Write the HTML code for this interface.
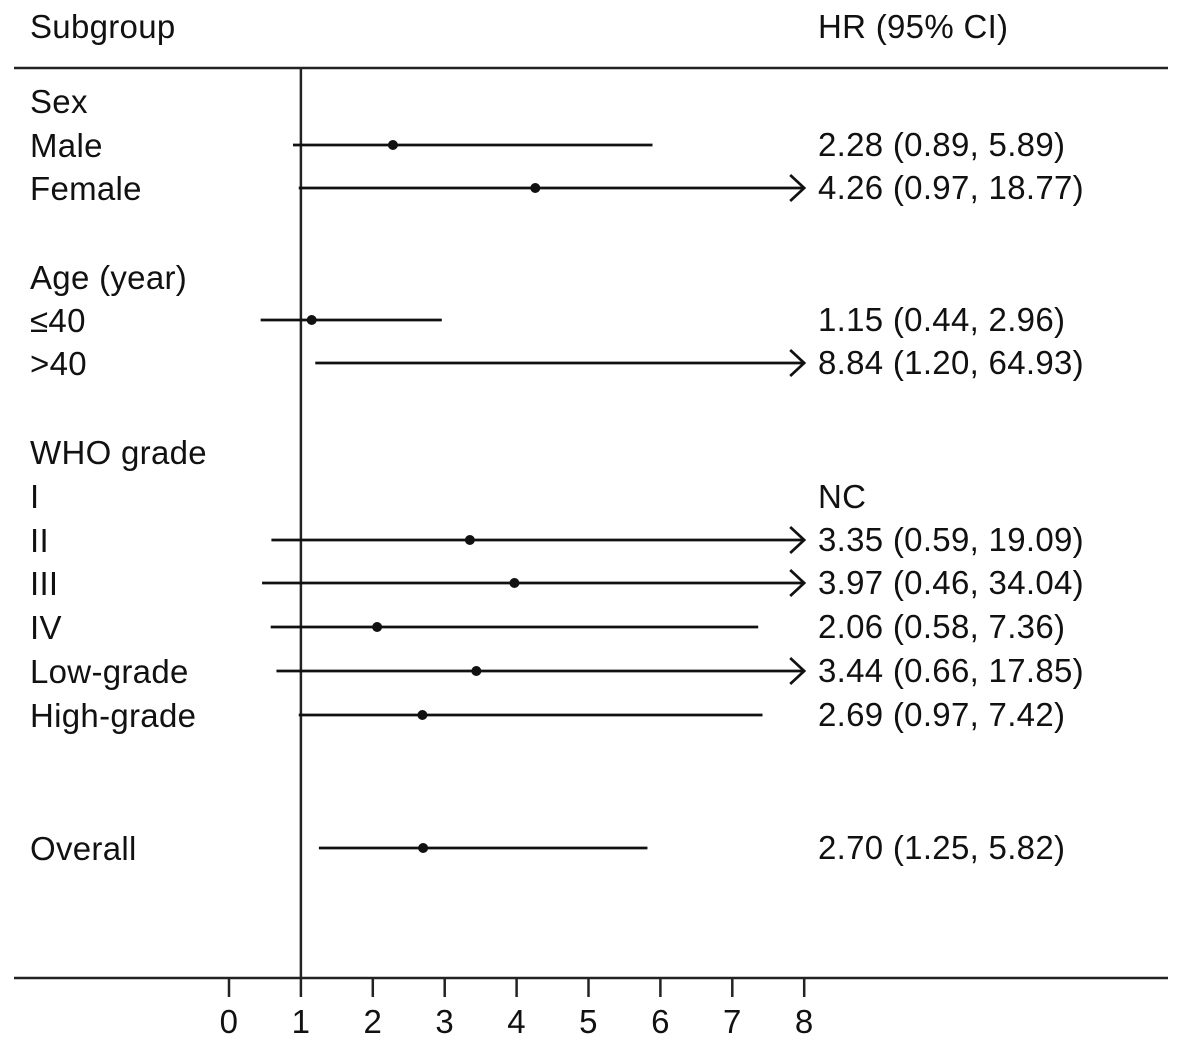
<!DOCTYPE html>
<html><head><meta charset="utf-8"><style>
body{margin:0;background:#fff;}
svg text{font-family:"Liberation Sans",Arial,sans-serif;fill:#111;letter-spacing:0.3px;}
</style></head><body>
<svg width="1181" height="1048" viewBox="0 0 1181 1048">
<g id="g"></g>
</svg>
<script>
const labels=["Male","Female","≤40",">40","II","III","IV","Low-grade","High-grade","Overall"];
const hr=[2.28,4.26,1.15,8.84,3.35,3.97,2.06,3.44,2.69,2.70];
const lo=[0.89,0.97,0.44,1.20,0.59,0.46,0.58,0.66,0.97,1.25];
const hi=[5.89,18.77,2.96,64.93,19.09,34.04,7.36,17.85,7.42,5.82];
const rowY=[145,188,320,363,540,583,627,671,715,848];
const headers=[["Sex",102],["Age (year)",278],["WHO grade",453],["I",497]];
const ticks=[0,1,2,3,4,5,6,7,8];
const NS="http://www.w3.org/2000/svg";
const g=document.getElementById('g');
const x=v=>229+v*71.9;
const XMAX=8;
const FS=33;
function mk(t,a,name){const e=document.createElementNS(NS,t);for(const k in a)e.setAttribute(k,a[k]);


g.appendChild(e);return e;}
function txt(s,X,Y,name){const e=mk('text',{x:X,y:Y,'font-size':FS},name);e.textContent=s;return e;}
txt("Subgroup",30,38,'subgroup-header');
txt("HR (95% CI)",818,38,'hr-header');
mk('line',{x1:14,x2:1168,y1:68,y2:68,stroke:'#222','stroke-width':2.5},'top-rule');
mk('line',{x1:14,x2:1168,y1:978,y2:978,stroke:'#222','stroke-width':2.5},'x-axis');
mk('line',{x1:x(1),x2:x(1),y1:68,y2:978,stroke:'#222','stroke-width':2.5},'reference-line');
ticks.forEach(t=>{mk('line',{x1:x(t),x2:x(t),y1:978,y2:997,stroke:'#222','stroke-width':2.5},'x-tick');
const e=txt(String(t),x(t),1033,'x-tick-label');e.setAttribute('text-anchor','middle');});
headers.forEach(h=>txt(h[0],30,h[1]+11,'group-label'));
txt("NC",818,508,'nc-value');
labels.forEach((l,i)=>{const y=rowY[i];
txt(l,30,y+12,'row-label');
const x2=hi[i]>XMAX?x(XMAX):x(hi[i]);
mk('line',{x1:x(lo[i]),x2:x2,y1:y,y2:y,stroke:'#111','stroke-width':2.7},'ci-line');
if(hi[i]>XMAX)mk('polyline',{points:`${x2-14},${y-13} ${x2},${y} ${x2-14},${y+13}`,fill:'none',stroke:'#111','stroke-width':2.7},'ci-arrow');
if(hr[i]<=XMAX)mk('circle',{cx:x(hr[i]),cy:y,r:5,fill:'#111'},'hr-point');
txt(`${hr[i].toFixed(2)} (${lo[i].toFixed(2)}, ${hi[i].toFixed(2)})`,818,y+11,'hr-value');
});
</script>
</body></html>
